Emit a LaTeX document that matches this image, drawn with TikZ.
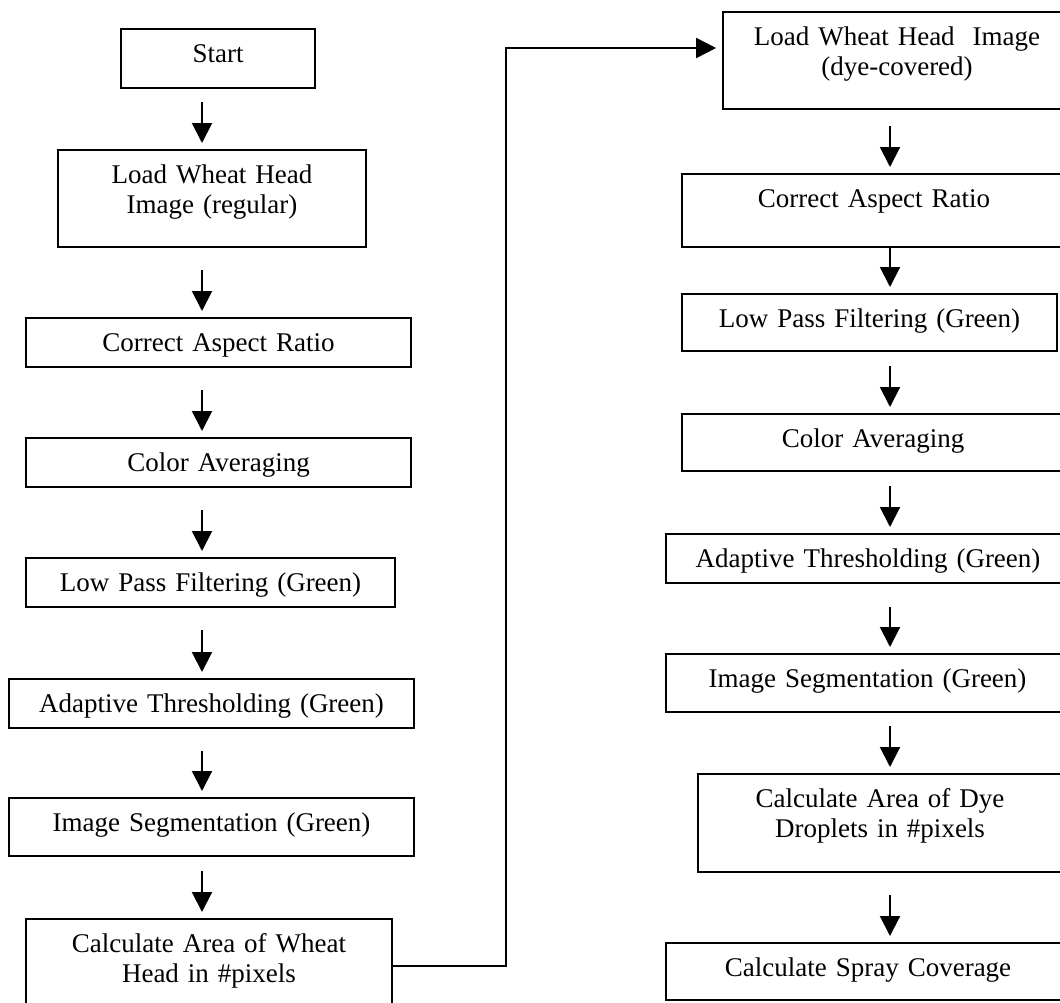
\documentclass[tikz,border=0pt]{standalone}
\usepackage{fontspec}
\setmainfont{Liberation Serif}
\usetikzlibrary{arrows.meta}

\tikzset{
  procbox/.style 2 args = {draw, line width=0.9pt, anchor=north, align=center,
    inner xsep=0pt, inner ysep=4pt, text width=#1, text height=13pt, text depth=#2,
    font=\fontsize{13.5}{15}\selectfont},
  flow/.style = {line width=1pt, -{Triangle[width=10pt,length=10pt]}, shorten >=3pt}
}

\begin{document}
\begin{tikzpicture}[x=0.5pt, y=-0.5pt]
    \clip (0,0) rectangle (1060,1002);

    % Vertices | regular image
    \node[procbox={97pt}{8.5pt}]    (start)  at (218,28)    {Start};
    \node[procbox={154pt}{27.5pt}]  (load1)  at (212,149)   {Load Wheat Head\\Image (regular)};
    \node[procbox={192.5pt}{3.5pt}] (corr1)  at (218.5,317) {Correct Aspect Ratio};
    \node[procbox={192.5pt}{3.5pt}] (color1) at (218.5,437) {Color Averaging};
    \node[procbox={184.5pt}{3.5pt}] (lowp1)  at (210.5,557) {Low Pass Filtering (Green)};
    \node[procbox={202.5pt}{3.5pt}] (adapt1) at (211.5,678) {Adaptive Thresholding (Green)};
    \node[procbox={202.5pt}{8pt}]   (seg1)   at (211.5,797) {Image Segmentation (Green)};
    \node[procbox={183pt}{26pt}]    (calc1)  at (209,918)   {Calculate Area of Wheat\\Head in \#pixels};

    % Vertices | dye-covered image
    \node[procbox={174pt}{27.5pt}]  (load2)  at (897,11)    {Load Wheat Head\ \ Image\\(dye-covered)};
    \node[procbox={192pt}{15.5pt}]  (corr2)  at (874,173)   {Correct Aspect Ratio};
    \node[procbox={187.5pt}{7.5pt}] (lowp2)  at (869.5,293) {Low Pass Filtering (Green)};
    \node[procbox={191pt}{7.5pt}]   (color2) at (873,413)   {Color Averaging};
    \node[procbox={202pt}{3.5pt}]   (adapt2) at (868,533)   {Adaptive Thresholding (Green)};
    \node[procbox={201.5pt}{8pt}]   (seg2)   at (867.5,653) {Image Segmentation (Green)};
    \node[procbox={182pt}{28pt}]    (calc2)  at (880,773)   {Calculate Area of Dye\\Droplets in \#pixels};
    \node[procbox={202pt}{7.5pt}]   (spray)  at (868,942)   {Calculate Spray Coverage};

    \coordinate (arrL) at (202,0);
    \coordinate (arrR) at (890,0);
    \coordinate (bend) at (506,48);

    % Edges | left column
    \draw[flow, shorten <=6.5pt] (start.south -| arrL)  -- (load1.north -| arrL);
    \draw[flow, shorten <=11pt]  (load1.south -| arrL)  -- (corr1.north -| arrL);
    \draw[flow, shorten <=11pt]  (corr1.south -| arrL)  -- (color1.north -| arrL);
    \draw[flow, shorten <=11pt]  (color1.south -| arrL) -- (lowp1.north -| arrL);
    \draw[flow, shorten <=11pt]  (lowp1.south -| arrL)  -- (adapt1.north -| arrL);
    \draw[flow, shorten <=11pt]  (adapt1.south -| arrL) -- (seg1.north -| arrL);
    \draw[flow, shorten <=7pt]   (seg1.south -| arrL)   -- (calc1.north -| arrL);

    % 1 | 2
    \draw[flow] (calc1.east) -| (bend) -- (load2.west |- bend);

    % Edges | right column
    \draw[flow, shorten <=8pt]    (load2.south -| arrR)  -- (corr2.north -| arrR);
    \draw[flow]                   (corr2.south -| arrR)  -- (lowp2.north -| arrR);
    \draw[flow, shorten <=7pt]    (lowp2.south -| arrR)  -- (color2.north -| arrR);
    \draw[flow, shorten <=7pt]    (color2.south -| arrR) -- (adapt2.north -| arrR);
    \draw[flow, shorten <=11.5pt] (adapt2.south -| arrR) -- (seg2.north -| arrR);
    \draw[flow, shorten <=6.5pt]  (seg2.south -| arrR)   -- (calc2.north -| arrR);
    \draw[flow, shorten <=11pt]   (calc2.south -| arrR)  -- (spray.north -| arrR);

  \end{tikzpicture}
\end{document}
